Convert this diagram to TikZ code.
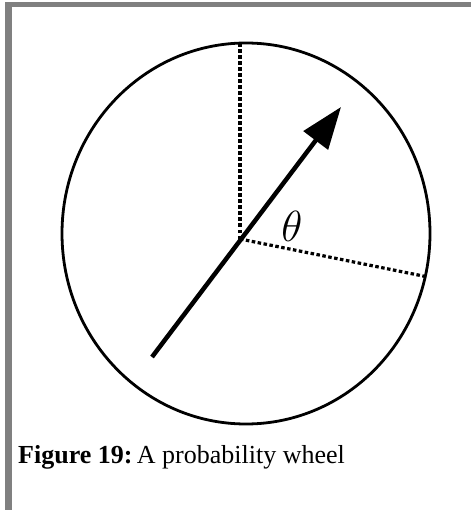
\documentclass[tikz,border=0pt]{standalone}
\usepackage{fontspec}
\setmainfont{Liberation Serif}
\usetikzlibrary{arrows.meta}

\begin{document}
\begin{tikzpicture}[
  x=1pt, y=-1pt,
  frame/.style={fill={rgb,255:red,128;green,128;blue,128}, draw=none},
  rim/.style={draw, line width=2.8pt},
  spoke/.style={line width=3.2pt, dash pattern=on 3.5pt off 2.5pt},
  pointer/.style={-{Triangle[length=42pt, width=30pt]}, line width=4.5pt},
  lbl/.style={font=\Huge, scale=1.75, inner sep=0pt},
  captiontext/.style={font=\fontsize{26}{31}\selectfont, inner sep=0pt, anchor=base west},
]
  \useasboundingbox (0,0) rectangle (471,510);
  \fill[white] (0,0) rectangle (471,510);

  % gray frame
  \fill[frame] (5,2) rectangle (471,7);
  \fill[frame] (5,2) rectangle (12,510);

  % wheel
  \draw[rim] (246,233.5) ellipse [x radius=184, y radius=190.5];

  \coordinate (hub)  at (240,239);
  \coordinate (up)   at (240,44);
  \coordinate (edge) at (428,277);
  \coordinate (tail) at (152,357);
  \coordinate (tip)  at (341,107);

  \draw[spoke] (hub) -- (up);
  \draw[spoke] (hub) -- (edge);
  \draw[pointer] (tail) -- (tip);

  \node[lbl] (theta) at (292,226) {$\theta$};

  \node[captiontext] (caption) at (18,463) {\textbf{Figure 19:}\,A probability wheel};
\end{tikzpicture}
\end{document}
